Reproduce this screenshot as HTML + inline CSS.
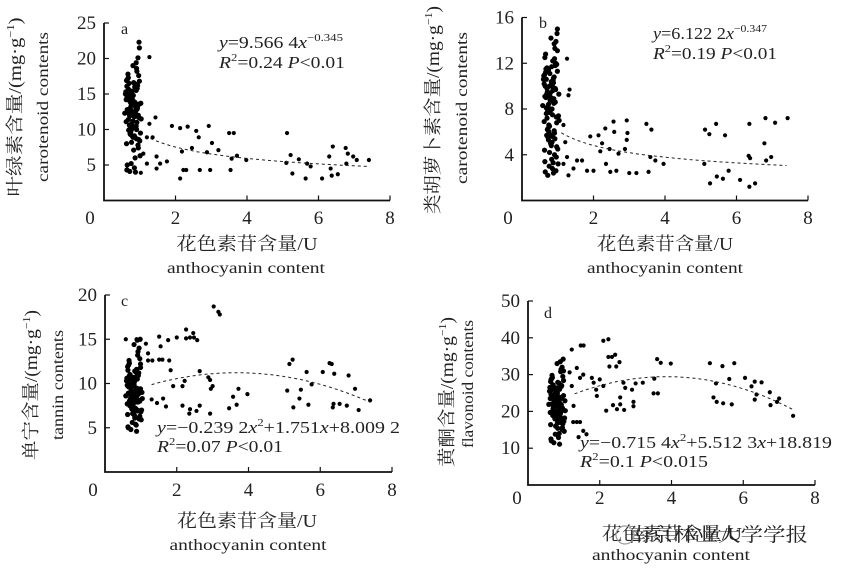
<!DOCTYPE html>
<html><head><meta charset="utf-8">
<style>
html,body{margin:0;padding:0;background:#fff;}
svg{display:block;}
text{fill:#222;}
.s{font-family:"Liberation Serif","Noto Serif CJK SC",serif;}
.cj{font-family:"Liberation Serif","Noto Serif CJK SC","Noto Sans CJK SC",serif;}
</style></head>
<body>
<svg id="chart" width="844" height="570" viewBox="0 0 844 570"></svg>
<script>
// shared cluster x-values (anthocyanin content, low-value cluster)
const clusterX=[0.62,0.71,0.85,0.93,0.68,0.77,0.99,0.64,0.81,0.88,0.73,0.95,0.66,0.79,0.91,0.70,0.84,1.02,0.63,0.76,0.87,0.97,0.69,0.82,0.74,0.90,0.65,0.78,0.94,0.72,0.86,1.00,0.67,0.80,0.92,0.61,0.75,0.89,0.98,0.70,0.83,0.96,0.64,0.77,0.88,0.73,0.91,1.04,0.66,0.79,0.85,0.93,0.60,0.74,0.87,0.99,0.68,0.81,0.95,0.71,0.84,0.90,0.63,0.76,0.97,0.69,0.82,1.01,0.72,0.86,0.94,0.65,0.78,0.89,0.75,0.92,0.67,0.80,0.96,0.70,0.83,1.03,0.62,0.77,0.88,0.74,0.91,0.58,0.81,0.97,0.68,0.85,0.93,0.73,0.79,0.87,0.64,0.99,0.76,0.90];
const clusterA=[14.2,12.5,9.1,15.8,17.3,8.2,13.6,4.3,11.2,16.4,13.9,7.8,15.1,10.4,18.6,14.7,12.1,9.5,16.9,5.2,13.3,11.7,15.6,8.9,14.0,19.4,12.8,10.1,16.2,4.1,13.5,8.4,17.8,14.9,11.0,15.3,9.7,13.1,22.3,12.2,16.6,7.4,14.4,10.8,15.9,13.0,8.7,11.5,17.1,14.6,4.6,12.9,15.0,9.3,13.8,16.8,11.4,14.1,20.1,10.6,12.4,15.5,8.0,13.4,17.6,9.9,14.8,6.3,11.9,16.0,13.2,5.0,15.4,12.6,10.3,18.2,14.3,9.0,12.0,16.5,7.1,13.7,11.1,15.2,4.0,14.5,10.0,12.3,19.0,8.6,15.7,11.8,13.0,9.4,14.0,6.0,16.1,21.5,12.7,10.5];
const clusterB=[10.2,9.5,5.6,11.8,8.1,4.2,13.1,3.4,9.0,10.7,6.3,2.6,11.2,8.7,12.4,9.8,5.1,7.4,11.0,3.0,10.5,6.8,9.3,4.8,8.4,13.7,10.0,5.8,12.0,2.2,9.6,4.5,11.5,7.9,5.4,10.9,6.0,8.9,14.6,7.2,11.7,3.8,9.1,6.5,10.3,8.2,4.0,7.0,12.8,9.4,2.8,8.6,10.6,5.3,9.9,11.3,7.6,10.1,13.9,6.2,8.0,10.8,4.4,9.2,11.9,5.7,10.4,3.2,7.8,12.2,9.7,2.5,11.1,8.5,6.6,13.3,9.0,5.0,7.3,11.6,3.6,9.3,6.9,10.0,2.4,11.4,5.9,8.3,14.2,4.7,10.6,7.5,9.8,5.5,8.8,3.3,12.5,15.0,7.7,6.1];
const clusterC=[9.8,8.7,7.2,10.9,12.3,6.6,9.4,5.1,8.1,11.6,9.1,6.0,10.4,7.7,13.2,9.9,8.4,7.0,11.9,5.6,9.3,8.0,10.7,6.4,9.6,14.9,8.9,7.4,11.2,4.8,9.0,6.8,12.6,10.1,7.9,10.6,7.1,8.6,15.0,8.2,11.4,6.2,9.7,7.6,10.8,9.2,6.9,8.3,12.1,10.0,5.4,8.8,10.3,7.3,9.5,11.8,8.0,9.9,14.0,7.8,8.5,10.5,6.5,9.1,12.8,7.5,10.2,5.9,8.4,11.3,9.4,5.0,10.7,8.9,7.2,13.6,9.6,6.7,8.1,11.0,6.1,9.0,7.7,10.4,4.6,9.8,7.0,8.6,14.4,6.3,10.9,8.2,9.3,7.4,9.7,5.3,11.5,12.2,8.8,7.9];
const clusterD=[23.5,21.0,17.5,26.8,29.2,16.0,24.3,12.5,20.1,27.4,22.8,15.1,25.9,19.4,30.8,24.0,21.6,18.2,28.1,13.8,23.1,20.5,26.2,16.8,22.5,33.5,22.0,18.8,27.0,11.5,22.6,17.3,29.8,25.2,19.9,26.5,18.0,21.3,34.2,20.8,27.9,15.6,24.6,19.0,26.0,23.3,17.0,20.2,28.9,24.9,12.9,21.8,25.5,18.5,23.9,28.4,20.0,24.1,32.0,19.6,21.4,26.7,16.4,23.0,29.5,18.9,25.0,14.6,20.7,27.7,23.6,12.0,26.4,22.2,19.2,31.4,24.5,17.8,20.9,27.2,15.4,22.9,19.7,25.7,11.1,24.7,18.3,21.9,33.0,16.6,26.9,20.4,23.7,18.6,24.2,14.0,28.6,31.0,22.1,19.3];
// scattered points [x, y]
const scatterA=[[1.27,20.2],[1.44,11.7],[1.27,10.8],[1.2,8.9],[1.36,8.9],[1.1,6.6],[1.2,5.2],[1.47,6.2],[1.57,5.2],[1.76,5.5],[1.47,4.5],[1.03,3.9],[1.9,10.5],[2.13,10.2],[2.34,10.4],[2.18,6.9],[2.13,3.1],[2.22,4.3],[2.3,4.3],[2.46,7.4],[2.58,9.8],[2.65,8.9],[2.68,4.3],[2.88,6.8],[2.93,10.5],[3.02,8.1],[2.97,4.3],[3.2,7.1],[3.5,9.5],[3.63,9.5],[3.57,5.9],[3.72,6.3],[3.98,5.7],[3.54,4.3],[5.12,9.5],[5.1,5.3],[5.22,6.4],[5.27,3.8],[5.45,5.8],[5.64,3.1],[5.68,5.2],[5.78,4.8],[6.1,3.1],[6.3,6.2],[6.34,4.5],[6.4,7.6],[6.37,3.5],[6.54,3.7],[6.76,7.4],[6.82,6.6],[6.78,5.2],[6.97,6.2],[7.07,5.7],[7.41,5.7]];
const scatterB=[[1.26,12.4],[1.33,9.7],[1.3,9.2],[1.16,6.6],[1.21,5.1],[1.26,3.8],[1.16,3.2],[1.3,2.2],[1.44,2.8],[1.54,3.5],[1.68,3.5],[1.82,2.6],[1.91,5.6],[2.0,2.6],[2.14,5.7],[2.19,4.3],[2.24,5.0],[2.33,6.3],[2.35,3.2],[2.45,4.5],[2.47,2.5],[2.56,6.9],[2.58,6.0],[2.64,2.6],[2.7,4.1],[2.93,7.0],[2.95,5.9],[2.93,5.3],[2.88,4.5],[3.0,2.4],[3.2,2.4],[3.48,6.7],[3.62,6.2],[3.54,2.5],[3.59,3.8],[3.73,3.5],[3.96,3.2],[5.12,6.2],[5.24,5.8],[5.43,6.7],[5.68,5.7],[5.1,3.2],[5.26,1.5],[5.45,2.1],[5.62,1.9],[5.78,2.6],[6.1,1.8],[6.36,1.2],[6.52,1.5],[6.34,3.9],[6.36,6.7],[6.38,3.7],[6.78,5.0],[6.81,7.2],[6.83,3.5],[6.97,3.8],[7.08,6.8],[7.43,7.2]];
const scatterC=[[0.58,15.0],[0.88,15],[1.14,14.5],[1.2,13.4],[1.2,12.6],[1.32,12.6],[1.51,15.3],[1.55,14.2],[1.51,12.7],[1.6,12.7],[1.76,14.9],[1.79,12.6],[1.83,11.5],[2.0,15.2],[2.26,16.1],[2.26,15.1],[2.37,15.2],[2.46,15.7],[2.48,15.2],[2.57,14.9],[2.16,9.7],[2.22,10.3],[1.9,9.7],[2.16,7.5],[2.37,7.1],[2.35,6.6],[2.55,6.9],[2.64,7.5],[2.64,11.4],[2.88,10.7],[2.93,10.4],[3.0,9.7],[2.95,9.4],[2.93,6.6],[3.03,18.7],[3.16,18.1],[3.2,17.8],[3.46,7.2],[3.57,8.5],[3.67,7.6],[3.72,9.4],[3.97,8.8],[5.08,9.2],[5.14,12.2],[5.23,12.7],[5.25,7.3],[5.42,8.3],[5.46,9.3],[5.62,11.3],[5.67,7.6],[5.76,9.9],[6.07,11.3],[6.26,12.3],[6.32,12.2],[6.37,7.7],[6.35,7.3],[6.39,11.1],[6.54,7.7],[6.74,7.5],[6.79,10.9],[6.97,9.4],[7.07,7.0],[7.39,8.1],[1.3,8.2],[1.45,7.8],[1.62,8.3],[1.7,7.4]];
const scatterD=[[1.22,36.8],[1.47,37.9],[1.55,37.9],[1.16,30.6],[1.36,31.8],[1.45,29.1],[1.54,30.0],[1.22,26.9],[1.27,21.5],[1.26,17.1],[1.36,17.1],[1.45,17.1],[1.54,14.7],[1.63,13.8],[1.41,13.0],[1.78,29.1],[1.83,27.8],[1.9,25.9],[1.92,24.2],[2.0,28.7],[2.1,26.9],[2.1,39.2],[2.24,39.6],[2.24,34.8],[2.34,34.8],[2.43,35.4],[2.55,33.4],[2.27,32.2],[2.46,32.2],[2.18,20.2],[2.37,21.7],[2.48,20.6],[2.57,23.8],[2.57,21.9],[2.68,20.4],[2.66,27.8],[2.71,26.4],[2.9,25.9],[2.94,22.6],[2.94,21.4],[3.0,27.6],[3.2,27.8],[3.52,28.9],[3.6,34.2],[3.62,24.9],[3.7,33.2],[3.98,33.0],[3.5,24.9],[5.07,33.1],[5.17,23.8],[5.24,27.6],[5.26,22.6],[5.42,32.3],[5.44,22.2],[5.61,28.8],[5.68,21.9],[5.75,33.1],[6.05,29.1],[6.23,26.8],[6.32,28.1],[6.32,23.2],[6.37,24.6],[6.51,27.9],[6.74,25.2],[6.76,21.7],[6.94,22.6],[7.0,23.5],[7.39,18.8]];
const xTicks=[0,2,4,6,8];
const yTicksA=[5,10,15,20,25];
const yTicksB=[4,8,12,16];
const yTicksC=[5,10,15,20];
const yTicksD=[10,20,30,40,50];
// fitted model coefficients
const fitA=[9.5664,-0.345];
const fitB=[6.1222,-0.347];
const fitC=[-0.2392,1.751,8.0092];
const fitD=[-0.7154,5.5123,18.819];

const NS="http://www.w3.org/2000/svg";
const svg=document.getElementById('chart');
function mk(tag,attrs,parent){const e=document.createElementNS(NS,tag);for(const k in attrs)e.setAttribute(k,attrs[k]);(parent||svg).appendChild(e);return e;}

function panel(o){
  const g=mk('g',{});
  
  
  const sx=v=>o.x0+(v/8)*(o.x8-o.x0);
  const sy=v=>o.y0-(v/o.ymax)*(o.y0-o.ytop);
  const ax=mk('path',{d:`M${o.x0},${o.ytop}V${o.y0}H${o.x8}`,fill:'none',stroke:'#111','stroke-width':1.8},g);
  
  
  xTicks.forEach(t=>{
    if(t>0){const tk=mk('line',{x1:sx(t),x2:sx(t),y1:o.y0,y2:o.y0-5,stroke:'#111','stroke-width':1.2},g);
      
      }
    const tx=t===0?o.zeroX:sx(t);
    const lb=mk('text',{x:tx,y:o.xlabY,'text-anchor':'middle','font-size':19,class:'s'},g);
    lb.textContent=t;
    
    
  });
  o.yt.forEach(t=>{
    const tk=mk('line',{x1:o.x0,x2:o.x0+5,y1:sy(t),y2:sy(t),stroke:'#111','stroke-width':1.2},g);
    
    
    const lb=mk('text',{x:o.x0-8,y:sy(t)+6,'text-anchor':'end','font-size':19,class:'s'},g);
    lb.textContent=t;
    
    
  });
  o.cy.forEach((v,i)=>{
    const c=mk('circle',{cx:sx(clusterX[i]),cy:sy(v),r:2.6,fill:'#000'},g);
    
    
  });
  o.pts.forEach(p=>{
    const c=mk('circle',{cx:sx(p[0]),cy:sy(p[1]),r:2.1,fill:'#000'},g);
    
    
  });
  let d='';
  for(let x=o.fx0;x<=7.401;x+=0.05){d+=(d?'L':'M')+sx(x).toFixed(1)+','+sy(o.f(x)).toFixed(1);}
  const tl=mk('path',{d:d,fill:'none',stroke:'#222','stroke-width':1,'stroke-dasharray':'3,3'},g);
  
  
  const lt=mk('text',{x:o.letter[0],y:o.letter[1],'font-size':16,class:'s'},g);
  lt.textContent=o.lt;
  
  
  const e1=mk('text',{x:o.eq[0],y:o.eq[1],'font-size':17,class:'s',textLength:o.eqW[0],lengthAdjust:'spacingAndGlyphs'},g);
  e1.innerHTML=o.eq1;
  
  
  const e2=mk('text',{x:o.eq[0],y:o.eq[2],'font-size':17,class:'s',textLength:o.eqW[1],lengthAdjust:'spacingAndGlyphs'},g);
  e2.innerHTML=o.eq2;
  
  
  const xt=mk('text',{x:o.xt[0],y:o.xt[1],'text-anchor':'middle','font-size':18,class:'cj',textLength:o.xt[2],lengthAdjust:'spacingAndGlyphs',fill:o.xtFill||'#222'},g);
  xt.textContent='花色素苷含量/U';
  
  
  const xe=mk('text',{x:o.xe[0],y:o.xe[1],'text-anchor':'middle','font-size':16,class:'s',textLength:o.xe[2],lengthAdjust:'spacingAndGlyphs'},g);
  xe.textContent='anthocyanin content';
  
  
  const yc=mk('text',{transform:`translate(${o.yc[0]},${o.yc[1]}) rotate(-90)`,'text-anchor':'middle','font-size':18,class:'cj',textLength:o.yc[2],lengthAdjust:'spacingAndGlyphs'},g);
  yc.innerHTML=o.ycT+'/(mg·g<tspan font-size="11" dy="-7">−1</tspan><tspan dy="7">)</tspan>';
  
  
  const ye=mk('text',{transform:`translate(${o.ye[0]},${o.ye[1]}) rotate(-90)`,'text-anchor':'middle','font-size':16,class:'s',textLength:o.ye[2],lengthAdjust:'spacingAndGlyphs'},g);
  ye.textContent=o.yeT;
  
  
}
const sup=s=>`<tspan font-size="11" dy="-7">${s}</tspan><tspan dy="7">`;
panel({name:'panel-a',lt:'a',x0:104,x8:390,y0:200.5,ytop:23,ymax:25,yt:yTicksA,zeroX:90,xlabY:224,cy:clusterA,pts:scatterA,
  fx0:1.3,f:x=>fitA[0]*Math.pow(x,fitA[1]),letter:[121,34],
  eq:[219,48,68],eqW:[124,126],
  eq1:'<tspan font-style="italic">y</tspan>=9.566 4<tspan font-style="italic">x</tspan>'+sup('−0.345')+'</tspan>',
  eq2:'<tspan font-style="italic">R</tspan>'+sup('2')+'=0.24 <tspan font-style="italic">P</tspan>&lt;0.01</tspan>',
  xt:[247,250,141],xe:[246,273,158],yc:[21,107,179],ycT:'叶绿素含量',ye:[48,107,150],yeT:'carotenoid contents'});
panel({name:'panel-b',lt:'b',x0:522,x8:808,y0:200.5,ytop:17.5,ymax:16,yt:yTicksB,zeroX:508,xlabY:224,cy:clusterB,pts:scatterB,
  fx0:1.1,f:x=>fitB[0]*Math.pow(x,fitB[1]),letter:[539,28],
  eq:[653,39,59],eqW:[114,124],
  eq1:'<tspan font-style="italic">y</tspan>=6.122 2<tspan font-style="italic">x</tspan>'+sup('−0.347')+'</tspan>',
  eq2:'<tspan font-style="italic">R</tspan>'+sup('2')+'=0.19 <tspan font-style="italic">P</tspan>&lt;0.01</tspan>',
  xt:[665,250,136],xe:[665,273,156],yc:[439,110,208],ycT:'类胡萝卜素含量',ye:[467,108,152],yeT:'carotenoid contents'});
panel({name:'panel-c',lt:'c',x0:105,x8:392,y0:472,ytop:295,ymax:20,yt:yTicksC,zeroX:93,xlabY:496,cy:clusterC,pts:scatterC,
  fx0:1.3,f:x=>fitC[0]*x*x+fitC[1]*x+fitC[2],letter:[121,306],
  eq:[157,433,452],eqW:[243,126],
  eq1:'<tspan font-style="italic">y</tspan>=−0.239 2<tspan font-style="italic">x</tspan>'+sup('2')+'+1.751<tspan font-style="italic">x</tspan>+8.009 2</tspan>',
  eq2:'<tspan font-style="italic">R</tspan>'+sup('2')+'=0.07 <tspan font-style="italic">P</tspan>&lt;0.01</tspan>',
  xt:[247,527,140],xe:[248,550,157],yc:[37,385,150],ycT:'单宁含量',ye:[63,385,110],yeT:'tannin contents'});
panel({name:'panel-d',lt:'d',x0:528,x8:815,y0:485,ytop:301,ymax:50,yt:yTicksD,zeroX:517,xlabY:504,cy:clusterD,pts:scatterD,
  fx0:1.3,f:x=>fitD[0]*x*x+fitD[1]*x+fitD[2],letter:[544,318],
  eq:[580,448,467],eqW:[252,128],
  eq1:'<tspan font-style="italic">y</tspan>=−0.715 4<tspan font-style="italic">x</tspan>'+sup('2')+'+5.512 3<tspan font-style="italic">x</tspan>+18.819</tspan>',
  eq2:'<tspan font-style="italic">R</tspan>'+sup('2')+'=0.1 <tspan font-style="italic">P</tspan>&lt;0.015</tspan>',
  xt:[672,540,140],xtFill:'#888',xe:[671,560,158],yc:[453,392,150],ycT:'黄酮含量',ye:[473,384,128],yeT:'flavonoid contents'});
const wm=mk('text',{x:718,y:541,'text-anchor':'middle','font-size':19,fill:'#666',class:'cj',textLength:180,lengthAdjust:'spacingAndGlyphs'});
wm.textContent='南京林业大学学报';


const wc=mk('circle',{cx:625,cy:535,r:9,fill:'none',stroke:'#999','stroke-width':1.2});


</script>
</body></html>
